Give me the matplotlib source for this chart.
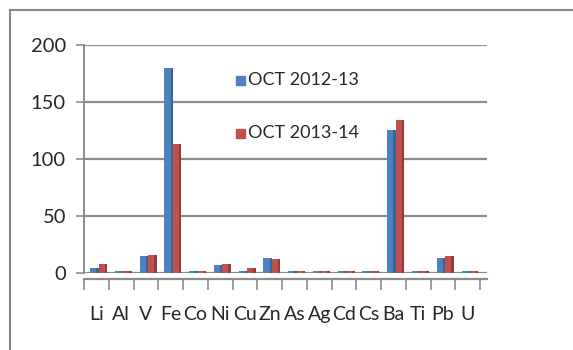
import numpy as np
import matplotlib.pyplot as plt
from matplotlib.lines import Line2D

# element concentrations, two sampling seasons
elements = ["Li", "Al", "V", "Fe", "Co", "Ni", "Cu", "Zn", "As", "Ag", "Cd", "Cs", "Ba", "Ti", "Pb", "U"]
oct_2012_13 = [4, 2, 15, 180, 2, 7, 2, 13, 2, 2, 2, 2, 125, 2, 13, 2]
oct_2013_14 = [8, 2, 16, 113, 2, 8, 4, 12, 2, 2, 2, 2, 134, 2, 15, 2]
series_names = ["OCT 2012-13", "OCT 2013-14"]
yticks = [0, 50, 100, 150, 200]

plt.rcParams['font.family'] = ['Lato', 'DejaVu Sans']

blue, blue_dark = "#4F81BD", "#3A6496"
red, red_dark = "#C0504D", "#943C3A"
grid_c = "#8C8C8C"
text_c = "#262626"

fig = plt.figure(figsize=(5.73, 3.5), dpi=100)
ax = fig.add_axes([84 / 573, 1 - 273 / 350, (487 - 84) / 573, (273 - 45) / 350])

x = np.arange(len(elements))
w = 0.34
for vals, left, c, cd in [(oct_2012_13, -0.25, blue, blue_dark), (oct_2013_14, 0.09, red, red_dark)]:
    ax.bar(x + left, vals, width=w, align="edge", color=c, zorder=3, linewidth=0)
    # darker side face for a column look
    ax.bar(x + left + w * 0.72, vals, width=w * 0.28, align="edge", color=cd, zorder=3, linewidth=0)

ax.set_xlim(-0.5, 15.78)
ax.set_ylim(0, 200)
ax.set_yticks(yticks)
ax.set_yticklabels([str(v) for v in yticks])
ax.yaxis.grid(True, color=grid_c, linewidth=1.6, zorder=0)
ax.set_axisbelow(True)

ax.set_xticks(x)
ax.set_xticklabels(elements)
ax.set_xticks(np.arange(-0.5, 16, 1), minor=True)
ax.tick_params(axis="x", which="major", length=0, pad=20, labelsize=14, labelcolor=text_c)
ax.tick_params(axis="x", which="minor", length=8, width=1.2, color=grid_c, direction="out")
ax.tick_params(axis="y", length=6, width=1.2, color=grid_c, pad=7, labelsize=14.5, labelcolor=text_c)

for side in ["top", "right"]:
    ax.spines[side].set_visible(False)
ax.spines["left"].set_color(grid_c)
ax.spines["left"].set_linewidth(1.4)
ax.spines["bottom"].set_color(grid_c)
ax.spines["bottom"].set_linewidth(1.6)
ax.spines["bottom"].set_position(("outward", 4))

# legend entries placed inside the plot area
for i, (name, c) in enumerate(zip(series_names, [blue, red])):
    yy = 1 - (80 + 53 * i) / 350
    fig.patches.append(plt.Rectangle((236 / 573, yy - 0.014), 9 / 573, 9 / 350,
                                     transform=fig.transFigure, color=c, figure=fig))
    fig.text(248 / 573, yy, name, fontsize=13, va="center", ha="left", color=text_c)

# outer chart frame
fig.add_artist(Line2D([10 / 573, 1], [1 - 10 / 350, 1 - 10 / 350], color="#888888", lw=1.5))
fig.add_artist(Line2D([10 / 573, 10 / 573], [0, 1 - 10 / 350], color="#888888", lw=1.5))

fig.savefig("out.png", dpi=100)
